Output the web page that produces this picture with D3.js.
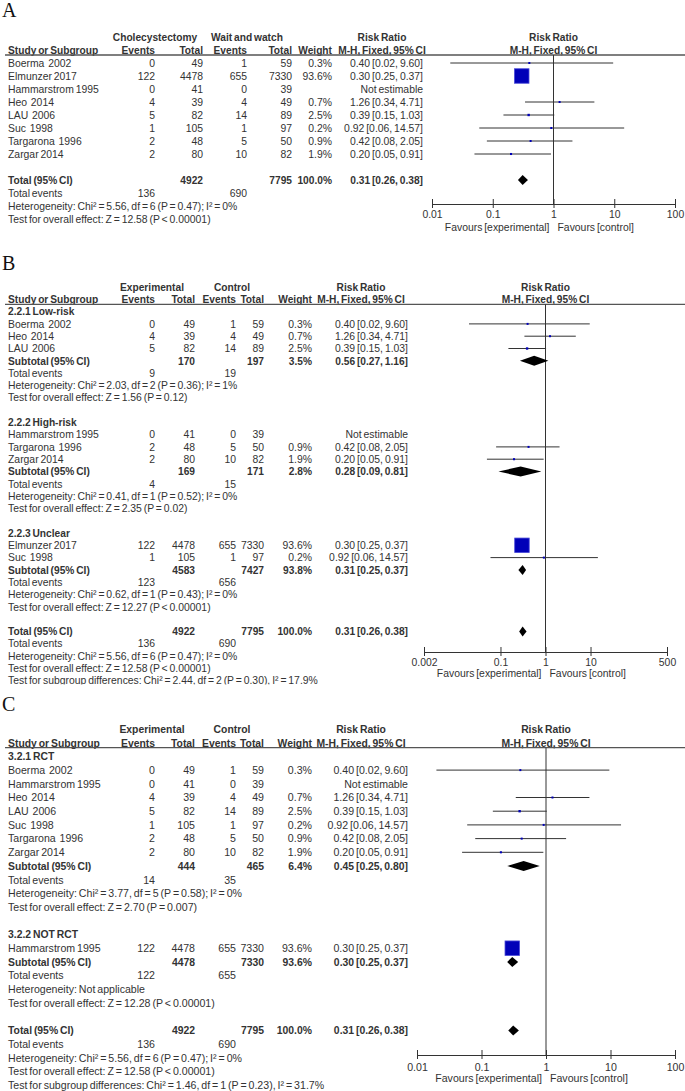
<!DOCTYPE html>
<html>
<head>
<meta charset="utf-8">
<script src="https://cdn.jsdelivr.net/npm/d3@7"></script>
<style>
  body { margin: 0; background: #fff; }
  svg { display: block; background: #fff; }
  .txt { font-family: "Liberation Sans", Arial, sans-serif; fill: #333; white-space: pre; word-spacing: -1px; }
  .bold { font-weight: bold; }
  .panelLabel { font-family: "Liberation Serif", "Times New Roman", serif; font-size: 20px; fill: #111; }
</style>
</head>
<body>
<svg id="chart" width="685" height="1091"></svg>
<script>

//// study level data (same 8 trials in every panel) ////
var studies   = ["Boerma  2002", "Elmunzer 2017", "Hammarstrom 1995", "Heo  2014", "LAU  2006", "Suc  1998", "Targarona  1996", "Zargar 2014"];
var expEvents = [0, 122, 0, 4, 5, 1, 2, 2];
var expTotal  = [49, 4478, 41, 39, 82, 105, 48, 80];
var ctlEvents = [1, 655, 0, 4, 14, 1, 5, 10];
var ctlTotal  = [59, 7330, 39, 49, 89, 97, 50, 82];
var weights   = [0.3, 93.6, null, 0.7, 2.5, 0.2, 0.9, 1.9];
var riskRatio = [0.40, 0.30, null, 1.26, 0.39, 0.92, 0.42, 0.20];
var ciLow     = [0.02, 0.25, null, 0.34, 0.15, 0.06, 0.08, 0.05];
var ciHigh    = [9.60, 0.37, null, 4.71, 1.03, 14.57, 2.05, 0.91];

// pooled result, identical in A, B and C
var overallTotals = [4922, 7795];
var overallEvents = [136, 690];
var overallWeight = 100.0;
var overallRR     = [0.31, 0.26, 0.38];
var overallHet    = "Heterogeneity: Chi² = 5.56, df = 6 (P = 0.47); I² = 0%";
var overallTest   = "Test for overall effect: Z = 12.58 (P < 0.00001)";

// panel B subgroups
var groupNamesB    = ["2.2.1 Low-risk", "2.2.2 High-risk", "2.2.3 Unclear"];
var groupMembersB  = [[0, 3, 4], [2, 6, 7], [1, 5]];
var subExpTotalB   = [170, 169, 4583];
var subCtlTotalB   = [197, 171, 7427];
var subWeightB     = [3.5, 2.8, 93.8];
var subRRB         = [0.56, 0.28, 0.31];
var subLowB        = [0.27, 0.09, 0.25];
var subHighB       = [1.16, 0.81, 0.37];
var subExpEventsB  = [9, 4, 123];
var subCtlEventsB  = [19, 15, 656];
var subHetB = ["Heterogeneity: Chi² = 2.03, df = 2 (P = 0.36); I² = 1%",
               "Heterogeneity: Chi² = 0.41, df = 1 (P = 0.52); I² = 0%",
               "Heterogeneity: Chi² = 0.62, df = 1 (P = 0.43); I² = 0%"];
var subTestB = ["Test for overall effect: Z = 1.56 (P = 0.12)",
                "Test for overall effect: Z = 2.35 (P = 0.02)",
                "Test for overall effect: Z = 12.27 (P < 0.00001)"];
var subgroupDiffB = "Test for subgroup differences: Chi² = 2.44, df = 2 (P = 0.30), I² = 17.9%";

// panel C subgroups
var groupNamesC    = ["3.2.1 RCT", "3.2.2 NOT RCT"];
var groupMembersC  = [[0, 2, 3, 4, 5, 6, 7], [1]];
var rowLabelsC     = [null, ["Hammarstrom 1995"]];   // NOT RCT row carries this label in the source
var subExpTotalC   = [444, 4478];
var subCtlTotalC   = [465, 7330];
var subWeightC     = [6.4, 93.6];
var subRRC         = [0.45, 0.30];
var subLowC        = [0.25, 0.25];
var subHighC       = [0.80, 0.37];
var subExpEventsC  = [14, 122];
var subCtlEventsC  = [35, 655];
var subHetC = ["Heterogeneity: Chi² = 3.77, df = 5 (P = 0.58); I² = 0%",
               "Heterogeneity: Not applicable"];
var subTestC = ["Test for overall effect: Z = 2.70 (P = 0.007)",
                "Test for overall effect: Z = 12.28 (P < 0.00001)"];
var subgroupDiffC = "Test for subgroup differences: Chi² = 1.46, df = 1 (P = 0.23), I² = 31.7%";

// axis ticks
var ticksA = [0.01, 0.1, 1, 10, 100];
var ticksB = [0.002, 0.1, 1, 10, 500];
var ticksC = [0.01, 0.1, 1, 10, 100];
/////////


var svg = d3.select("#chart");
var defs = svg.append("defs");
var fmt2 = d3.format(".2f"),
    fmt1 = d3.format(".1f");
var boxSize = d3.scaleSqrt().domain([0, 93.6]).range([0, 14.5]);

function ciText(rr, lo, hi) {
  return fmt2(rr) + " [" + fmt2(lo) + ", " + fmt2(hi) + "]";
}

// turn a panel into a list of text lines (index = line number)
function buildLines(p) {
  var lines = [];
  var i = 2;

  function studyLine(k, label) {
    lines.push({ i: i++, kind: "study", name: label || studies[k],
      e1: expEvents[k], n1: expTotal[k], e2: ctlEvents[k], n2: ctlTotal[k],
      w: weights[k], rr: riskRatio[k], lo: ciLow[k], hi: ciHigh[k] });
  }

  if (!p.groups) {
    studies.forEach(function(s, k) { studyLine(k); });
    i++;
  } else {
    p.groups.forEach(function(name, gi) {
      lines.push({ i: i++, kind: "group", name: name });
      p.members[gi].forEach(function(k, j) {
        studyLine(k, p.labels && p.labels[gi] ? p.labels[gi][j] : null);
      });
      lines.push({ i: i++, kind: "subtotal", name: "Subtotal (95% CI)",
        n1: p.subExpTotal[gi], n2: p.subCtlTotal[gi], w: p.subWeight[gi],
        rr: p.subRR[gi], lo: p.subLow[gi], hi: p.subHigh[gi] });
      lines.push({ i: i++, kind: "events", name: "Total events", e1: p.subExpEvents[gi], e2: p.subCtlEvents[gi] });
      lines.push({ i: i++, kind: "note", name: p.subHet[gi] });
      lines.push({ i: i++, kind: "note", name: p.subTest[gi] });
      i++;
    });
  }

  lines.push({ i: i++, kind: "subtotal", name: "Total (95% CI)",
    n1: overallTotals[0], n2: overallTotals[1], w: overallWeight,
    rr: overallRR[0], lo: overallRR[1], hi: overallRR[2] });
  lines.push({ i: i++, kind: "events", name: "Total events", e1: overallEvents[0], e2: overallEvents[1] });
  lines.push({ i: i++, kind: "note", name: overallHet });
  lines.push({ i: i++, kind: "note", name: overallTest });
  if (p.diff) lines.push({ i: i++, kind: "note", name: p.diff });
  return lines;
}


function drawPanel(p) {
  var g = svg.append("g");
  if (p.clipBottom) {
    defs.append("clipPath").attr("id", "clip" + p.label)
      .append("rect").attr("x", 0).attr("y", 0).attr("width", 685).attr("height", p.clipBottom);
    g.attr("clip-path", "url(#clip" + p.label + ")");
  }

  var rowY = d3.scaleLinear().domain([0, 1]).range([p.y0, p.y0 + p.step]);
  var x = d3.scaleLog().domain(p.xDomain).range(p.xRange);
  var c = p.cols;
  var base = function(i) { return rowY(i) + p.fs * 0.36; };

  function txt(xx, i, s, anchor, bold) {
    g.append("text")
      .attr("class", "txt" + (bold ? " bold" : ""))
      .attr("x", xx)
      .attr("y", base(i))
      .attr("text-anchor", anchor || "start")
      .style("font-size", (bold ? p.fs * 0.98 : p.fs) + "px")
      .text(s);
  }

  g.append("text").attr("class", "panelLabel").attr("x", 2).attr("y", p.labelY).text(p.label);

  // column headers
  txt(c.h1exp, 0, p.head1[0], "middle", true);
  txt(c.h1ctl, 0, p.head1[1], "middle", true);
  txt(c.ciHead, 0, "Risk Ratio", "middle", true);
  txt(x(1), 0, "Risk Ratio", "middle", true);
  txt(8, 1, "Study or Subgroup", "start", true);
  txt(c.e1, 1, "Events", "end", true);
  txt(c.n1, 1, "Total", "end", true);
  txt(c.e2, 1, "Events", "end", true);
  txt(c.n2, 1, "Total", "end", true);
  txt(c.w, 1, "Weight", "end", true);
  txt(c.ciHead, 1, "M-H, Fixed, 95% CI", "middle", true);
  txt(x(1), 1, "M-H, Fixed, 95% CI", "middle", true);

  var ruleY = rowY(1) + 5;
  g.append("line")
    .attr("x1", 5).attr("x2", 685)
    .attr("y1", ruleY).attr("y2", ruleY)
    .attr("stroke", "#555").attr("stroke-width", 1.3);

  // line of no effect
  g.append("line")
    .attr("x1", x(1)).attr("x2", x(1))
    .attr("y1", ruleY).attr("y2", p.axisY)
    .attr("stroke", "#333").attr("stroke-width", 1);

  var lines = buildLines(p);

  lines.forEach(function(d) {
    var bold = d.kind === "subtotal" || d.kind === "group";
    txt(8, d.i, d.name, "start", bold);

    if (d.kind === "events") {
      txt(c.e1, d.i, d.e1, "end");
      txt(c.e2, d.i, d.e2, "end");
    }
    if (d.kind === "study") {
      txt(c.e1, d.i, d.e1, "end");
      txt(c.n1, d.i, d.n1, "end");
      txt(c.e2, d.i, d.e2, "end");
      txt(c.n2, d.i, d.n2, "end");
      if (d.rr == null) {
        txt(c.ci, d.i, "Not estimable", "end");
      } else {
        txt(c.w, d.i, fmt1(d.w) + "%", "end");
        txt(c.ci, d.i, ciText(d.rr, d.lo, d.hi), "end");

        var yy = rowY(d.i);
        g.append("line")
          .attr("x1", x(d.lo)).attr("x2", x(d.hi))
          .attr("y1", yy).attr("y2", yy)
          .attr("stroke", "#333").attr("stroke-width", 1);
        var s = Math.max(2, boxSize(d.w));
        g.append("rect")
          .attr("x", x(d.rr) - s / 2).attr("y", yy - s / 2)
          .attr("width", s).attr("height", s)
          .attr("fill", "#0000b8")
          .attr("stroke", s > 4 ? "#4a4ad8" : "none").attr("stroke-width", 0.8);
      }
    }
    if (d.kind === "subtotal") {
      txt(c.n1, d.i, d.n1, "end", true);
      txt(c.n2, d.i, d.n2, "end", true);
      txt(c.w, d.i, fmt1(d.w) + "%", "end", true);
      txt(c.ci, d.i, ciText(d.rr, d.lo, d.hi), "end", true);

      var yd = rowY(d.i);
      g.append("path")
        .attr("d", "M" + x(d.lo) + "," + yd + "L" + x(d.rr) + "," + (yd - 5) +
                   "L" + x(d.hi) + "," + yd + "L" + x(d.rr) + "," + (yd + 5) + "Z")
        .attr("fill", "#000");
    }
  });

  // log axis
  var axis = d3.axisBottom(x)
    .tickValues(p.ticks)
    .tickFormat(function(d) { return String(d); })
    .tickSizeOuter(0)
    .tickSizeInner(4);

  var ax = g.append("g")
    .attr("transform", "translate(0," + p.axisY + ")")
    .call(axis);
  ax.select(".domain").attr("stroke", "#333");
  ax.selectAll(".tick line").attr("y1", -5).attr("y2", 4).attr("stroke", "#333");
  ax.selectAll(".tick text")
    .attr("class", "txt")
    .attr("dy", null)
    .attr("y", p.tickY - p.axisY + p.fs * 0.36)
    .style("font-size", p.fs + "px");

  g.append("text").attr("class", "txt")
    .attr("x", x(1) - 4).attr("y", p.favY + p.fs * 0.36)
    .attr("text-anchor", "end").style("font-size", p.fs + "px")
    .text("Favours [experimental]");
  g.append("text").attr("class", "txt")
    .attr("x", x(1) + 4).attr("y", p.favY + p.fs * 0.36)
    .style("font-size", p.fs + "px")
    .text("Favours [control]");
}


var colsA  = { e1: 155, n1: 203, e2: 247, n2: 292, w: 332, ci: 423, ciHead: 382, h1exp: 155, h1ctl: 247 };
var colsBC = { e1: 155, n1: 195, e2: 236, n2: 264, w: 312, ci: 408, ciHead: 361, h1exp: 152, h1ctl: 232 };

drawPanel({
  label: "A", labelY: 17, y0: 37, step: 13, fs: 10.4, cols: colsA,
  head1: ["Cholecystectomy", "Wait and watch"],
  xDomain: [0.01, 100], xRange: [432, 675], ticks: ticksA,
  axisY: 204, tickY: 214, favY: 227
});

drawPanel({
  label: "B", labelY: 270, y0: 287, step: 12.3, fs: 10.4, cols: colsBC,
  head1: ["Experimental", "Control"],
  groups: groupNamesB, members: groupMembersB,
  subExpTotal: subExpTotalB, subCtlTotal: subCtlTotalB, subWeight: subWeightB,
  subRR: subRRB, subLow: subLowB, subHigh: subHighB,
  subExpEvents: subExpEventsB, subCtlEvents: subCtlEventsB,
  subHet: subHetB, subTest: subTestB, diff: subgroupDiffB,
  xDomain: [0.002, 500], xRange: [424, 667], ticks: ticksB,
  axisY: 652, tickY: 662, favY: 673, clipBottom: 684.5
});

drawPanel({
  label: "C", labelY: 711, y0: 729, step: 13.7, fs: 10.6, cols: colsBC,
  head1: ["Experimental", "Control"],
  groups: groupNamesC, members: groupMembersC, labels: rowLabelsC,
  subExpTotal: subExpTotalC, subCtlTotal: subCtlTotalC, subWeight: subWeightC,
  subRR: subRRC, subLow: subLowC, subHigh: subHighC,
  subExpEvents: subExpEventsC, subCtlEvents: subCtlEventsC,
  subHet: subHetC, subTest: subTestC, diff: subgroupDiffC,
  xDomain: [0.01, 100], xRange: [417, 675], ticks: ticksC,
  axisY: 1055, tickY: 1067, favY: 1078
});

</script>
</body>
</html>
